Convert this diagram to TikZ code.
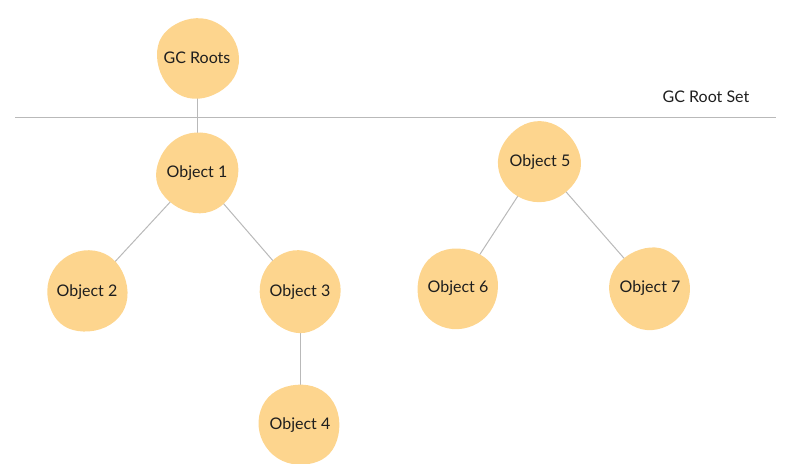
\documentclass[tikz,border=0pt]{standalone}
\usepackage{fontspec}
\setmainfont{Lato}
\usetikzlibrary{backgrounds}
\definecolor{blobfill}{RGB}{253,213,142}
\definecolor{edgegray}{RGB}{185,185,185}
\definecolor{inkc}{RGB}{30,30,30}
\tikzset{
  blobtext/.style={circle, minimum size=78pt, inner sep=0pt, font=\fontsize{16}{18}\selectfont, text=inkc},
  edge/.style={draw=edgegray, line width=1pt},
}
\newcommand{\blobnode}[5]{%
  \fill[blobfill, shift={(#2,#3)}, rotate=#5]
    plot[smooth cycle, tension=0.76] coordinates {(42,0) (20,-35) (-21,-34) (-40,-2) (-19,36) (22,34)};
  \node[blobtext] (#1) at (#2,#3) {#4};
}
\begin{document}
\begin{tikzpicture}[x=1pt,y=-1pt]
\useasboundingbox (0,0) rectangle (802,463);
\blobnode{root}{197}{58}{GC Roots}{0}
\blobnode{o1}{197}{173}{Object 1}{40}
\blobnode{o2}{87}{292}{Object 2}{80}
\blobnode{o3}{300}{292}{Object 3}{120}
\blobnode{o4}{300}{425}{Object 4}{160}
\blobnode{o5}{540}{162}{Object 5}{200}
\blobnode{o6}{458}{288}{Object 6}{240}
\blobnode{o7}{650}{288}{Object 7}{280}
\coordinate (lineL) at (15,117);
\coordinate (lineR) at (776,117);
\node[font=\fontsize{16}{18}\selectfont, text=inkc] (setlabel) at (706,97) {GC Root Set};
\begin{scope}[on background layer]
  \draw[edge] (lineL) -- (lineR);
  \draw[edge] (root.center) -- (o1.center);
  \draw[edge] (o1.center) -- (o2.center);
  \draw[edge] (o1.center) -- (o3.center);
  \draw[edge] (o3.center) -- (o4.center);
  \draw[edge] (o5.center) -- (o6.center);
  \draw[edge] (o5.center) -- (o7.center);
\end{scope}
\end{tikzpicture}
\end{document}
